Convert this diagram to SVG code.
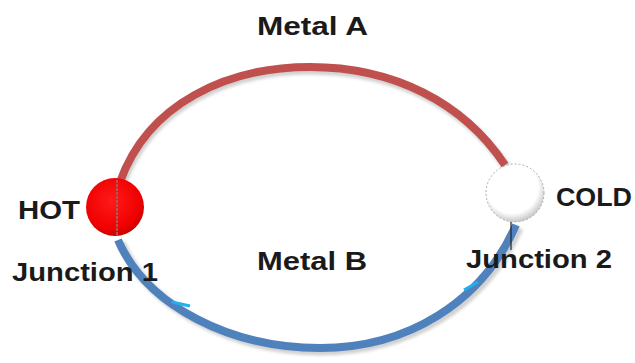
<svg xmlns="http://www.w3.org/2000/svg" width="635" height="363" viewBox="0 0 635 363">
  <style>
    .lbl { font-family: "Liberation Sans", Arial, sans-serif; font-weight: bold; font-size: 25px; fill: #1a1a1a; }
    .wire { fill: none; stroke-width: 8; stroke-linecap: butt; }
    .shadow { fill: none; stroke: #9a9a9a; stroke-width: 9; opacity: 0.45; filter: url(#soft); }
  </style>
  <defs>
    <filter id="soft" x="-10%" y="-10%" width="120%" height="120%">
      <feGaussianBlur stdDeviation="1.5"/>
    </filter>
    <radialGradient id="hotFill" cx="0.45" cy="0.4" r="0.6">
      <stop offset="0" stop-color="#ff1a1a"/>
      <stop offset="0.8" stop-color="#f00000"/>
      <stop offset="1" stop-color="#c80000"/>
    </radialGradient>
    <radialGradient id="coldFill" cx="0.45" cy="0.4" r="0.6">
      <stop offset="0" stop-color="#ffffff"/>
      <stop offset="0.75" stop-color="#ffffff"/>
      <stop offset="1" stop-color="#c8c8c8"/>
    </radialGradient>
  </defs>
  <rect width="635" height="363" fill="#ffffff"/>

  <g id="connectors">
    <!-- shadows -->
    <path class="shadow" d="M122,184 C150,105 230,70 310,70 C395,70 465,105 507,168"/>
    <path class="shadow" d="M121,243 C150,310 235,351 320,351 C410,351 485,305 519,228"/>
    <!-- metal A -->
    <path id="metalA" class="wire" stroke="#c0504d" d="M120,182 C148,103 228,67 310,67 C393,67 463,102 505,165"/>
    <!-- metal B -->
    <path id="metalB" class="wire" stroke="#4f81bd" d="M118,240 C147,307 232,348 320,348 C408,348 482,302 516,225"/>
    <!-- direction ticks -->
    <path d="M172,302 L190,306" stroke="#20b0f0" stroke-width="3" fill="none"/>
    <path d="M464,290 L478,282" stroke="#20b0f0" stroke-width="3" fill="none"/>
  </g>

  <g id="hot-junction">
    <circle cx="115" cy="207" r="29" fill="url(#hotFill)"/>
    <line x1="117" y1="180" x2="117" y2="236" stroke="#c0504d" stroke-width="2" stroke-dasharray="3 1"/>
    <text class="lbl" x="18" y="219" textLength="62" lengthAdjust="spacingAndGlyphs">HOT</text>
  </g>

  <g id="cold-junction">
    <circle cx="515" cy="193" r="29" fill="url(#coldFill)" stroke="#b0b0b0" stroke-width="1" stroke-dasharray="2 2"/>
    <line x1="511" y1="222" x2="511" y2="250" stroke="#222" stroke-width="1.2"/>
    <text class="lbl" x="556" y="206" textLength="76" lengthAdjust="spacingAndGlyphs">COLD</text>
  </g>

  <g id="labels">
    <text class="lbl" x="257" y="35" textLength="111" lengthAdjust="spacingAndGlyphs">Metal A</text>
    <text class="lbl" x="257" y="270" textLength="110" lengthAdjust="spacingAndGlyphs">Metal B</text>
    <text class="lbl" x="12" y="281" textLength="146" lengthAdjust="spacingAndGlyphs">Junction 1</text>
    <text class="lbl" x="466" y="268" textLength="146" lengthAdjust="spacingAndGlyphs">Junction 2</text>
  </g>
</svg>
